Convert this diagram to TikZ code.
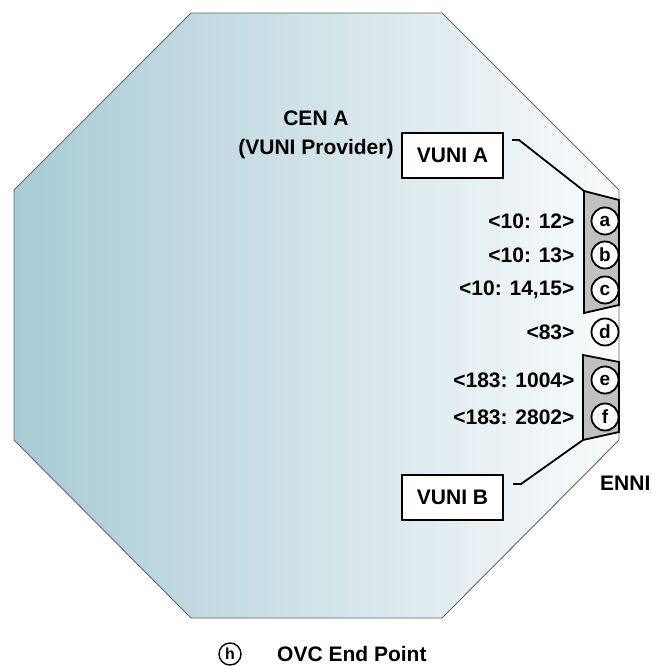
\documentclass[tikz,border=0pt]{standalone}
\usepackage{fontspec}
\setmainfont{Liberation Sans}
\usetikzlibrary{positioning}
\definecolor{CENblue}{RGB}{168, 203, 213}
\definecolor{CENwhite}{RGB}{250, 251, 252}
\definecolor{ENNIgray}{RGB}{192, 192, 192}

\begin{document}
\begin{tikzpicture}[x=1pt, y=-1pt, font=\fontsize{21}{29}\selectfont\bfseries, bx/.style={draw, line width=2pt, fill=white, minimum width=101pt, minimum height=45pt, inner sep=0pt}, ep/.style={circle, draw, line width=1.8pt, fill=white, minimum size=27pt, inner sep=0pt, font=\fontsize{19}{19}\selectfont\bfseries}, tg/.style={inner sep=0pt}, ln/.style={line width=1.8pt}]
\useasboundingbox (0,0) rectangle (651,666);
\shadedraw[left color=CENblue, right color=CENwhite, draw=black!60, line width=0.9pt] (191,13) -- (442,13) -- (619,190) -- (619,440) -- (442,618) -- (191,618) -- (14,440) -- (14,190) -- cycle;
\node[align=center, tg] (cen) at (316,135) {CEN A\\(VUNI Provider)};
\node[bx] (vA) at (452.5,155) {VUNI A};
\node[bx] (vB) at (452.5,497) {VUNI B};
\draw[ln, fill=ENNIgray] (584,191) coordinate (g1) -- (619,200) -- (619,305) -- (584,313) -- cycle;
\draw[ln, fill=ENNIgray] (583,355) -- (619,362) -- (619,432) -- (583,440) coordinate (g2) -- cycle;
\foreach \n/\y/\t in {a/221/{<10: 12>}, b/255/{<10: 13>}, c/290/{<10: 14,15>}, d/332/{<83>}, e/380/{<183: 1004>}, f/417/{<183: 2802>}} {
  \node[ep] (ep-\n) at (605,\y) {\n};
  \node[tg, left=16pt of ep-\n] (lb-\n) {\t};
}
\draw[ln] ([xshift=8pt, yshift=15pt]vA.east) -- ++(7,0) -- (g1); \draw[ln] ([xshift=9pt, yshift=13pt]vB.east) -- ++(8,0) -- (g2);
\node[tg, anchor=west] (enni) at (600,483) {ENNI};
\node[ep, minimum size=22pt, line width=1.4pt, font=\fontsize{16}{16}\selectfont\bfseries] (leg) at (230,654) {h};
\node[tg, anchor=west] (legtxt) at (277,654) {OVC End Point};
\end{tikzpicture}
\end{document}
